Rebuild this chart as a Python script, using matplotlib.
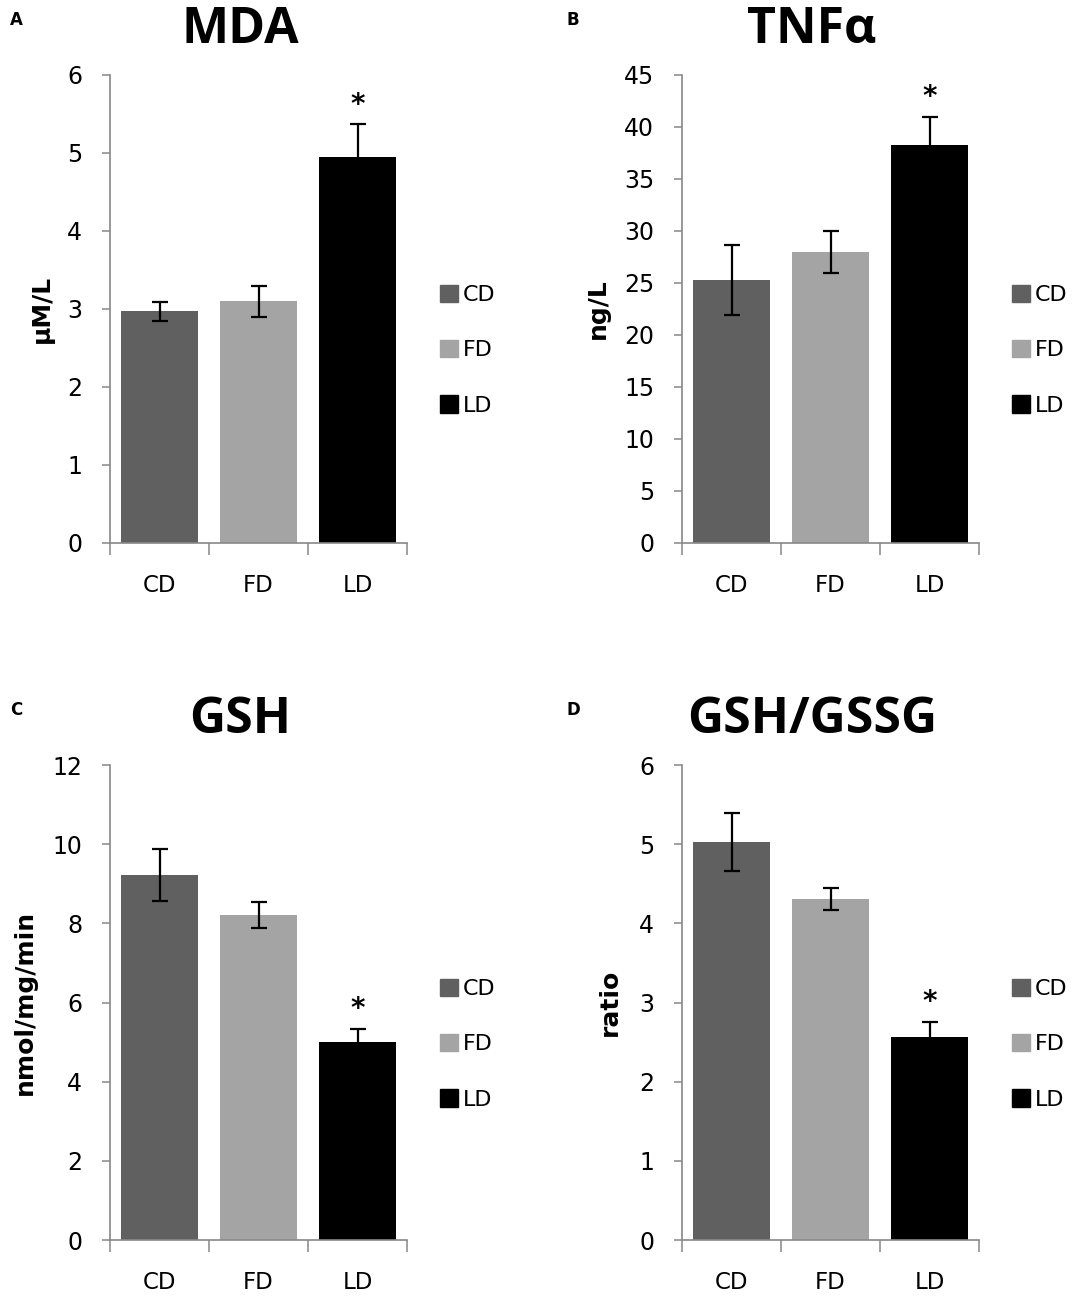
import numpy as np
import matplotlib.pyplot as plt

groups = ["CD", "FD", "LD"]
bar_colors = ["#606060", "#a4a4a4", "#000000"]

mda = [2.97, 3.10, 4.95]
mda_err = [0.12, 0.20, 0.42]
tnf = [25.3, 28.0, 38.3]
tnf_err = [3.4, 2.0, 2.7]
gsh = [9.22, 8.20, 5.00]
gsh_err = [0.65, 0.33, 0.33]
ratio = [5.03, 4.31, 2.56]
ratio_err = [0.37, 0.14, 0.20]

panels = [
    ("A", "MDA", "\u00b5M/L", mda, mda_err, 6, 1),
    ("B", "TNF\u03b1", "ng/L", tnf, tnf_err, 45, 5),
    ("C", "GSH", "nmol/mg/min", gsh, gsh_err, 12, 2),
    ("D", "GSH/GSSG", "ratio", ratio, ratio_err, 6, 1),
]
# axes boxes in pixels: left, top, bottom (figure is 1074x1300)
boxes = [(110, 75, 543), (682, 75, 543), (110, 765, 1240), (682, 765, 1240)]
ylab_x = [42, 598, 25, 610]
AW = 297

W, H = 1074, 1300
fig = plt.figure(figsize=(W / 100, H / 100), dpi=100)
plt.rcParams['font.family'] = ['DejaVu Sans']

for (letter, title, ylab, vals, errs, ymax, step), (l, t, b), yx in zip(panels, boxes, ylab_x):
    ax = fig.add_axes([l / W, 1 - b / H, AW / W, (b - t) / H])
    x = np.arange(len(groups))
    ax.bar(x, vals, width=0.78, color=bar_colors, zorder=2)
    ax.errorbar(x, vals, yerr=errs, fmt="none", ecolor="black", elinewidth=1.6,
                capsize=6, capthick=1.6, zorder=3)
    ax.set_xlim(-0.5, 2.5)
    ax.set_ylim(0, ymax)
    ax.set_yticks(np.arange(0, ymax + step / 2, step))
    ax.set_xticks(x)
    ax.set_xticklabels(groups)
    ax.set_xticks([-0.5, 0.5, 1.5, 2.5], minor=True)
    ax.tick_params(axis="x", which="major", length=0, pad=22, labelsize=16.5)
    ax.tick_params(axis="x", which="minor", length=8.5, width=1.1, color="#888888", direction="out")
    ax.tick_params(axis="y", length=6, width=1.1, color="#888888", pad=14, labelsize=17)
    for s in ["top", "right"]:
        ax.spines[s].set_visible(False)
    for s in ["left", "bottom"]:
        ax.spines[s].set_color("#888888")
        ax.spines[s].set_linewidth(1.2)

    # significance star above LD
    ax.annotate("*", (2, vals[2] + errs[2]), xytext=(0, 4), textcoords="offset points",
                ha="center", va="bottom", fontsize=20, fontweight="bold")

    fig.text((l + 130) / W, 1 - (t - 45) / H, title, ha="center", va="center",
             fontsize=36, fontweight="bold", family=["Open Sans", "DejaVu Sans"])
    fig.text((10 if l < 500 else 567) / W, 1 - (t - 55) / H, letter, ha="left", va="center",
             fontsize=12, fontweight="bold")
    fig.text(yx / W, 1 - (t + b) / 2 / H, ylab, rotation=90, ha="center", va="center",
             fontsize=18, fontweight="bold")

    handles = [plt.Rectangle((0, 0), 1, 1, color=c) for c in bar_colors]
    ax.legend(handles, groups, loc="center left", bbox_to_anchor=(1.111, 0.412),
              frameon=False, fontsize=16, handlelength=0.82, handleheight=0.82,
              handletextpad=0.2, labelspacing=1.57, borderpad=0, borderaxespad=0)

fig.savefig("out.png", dpi=100)
